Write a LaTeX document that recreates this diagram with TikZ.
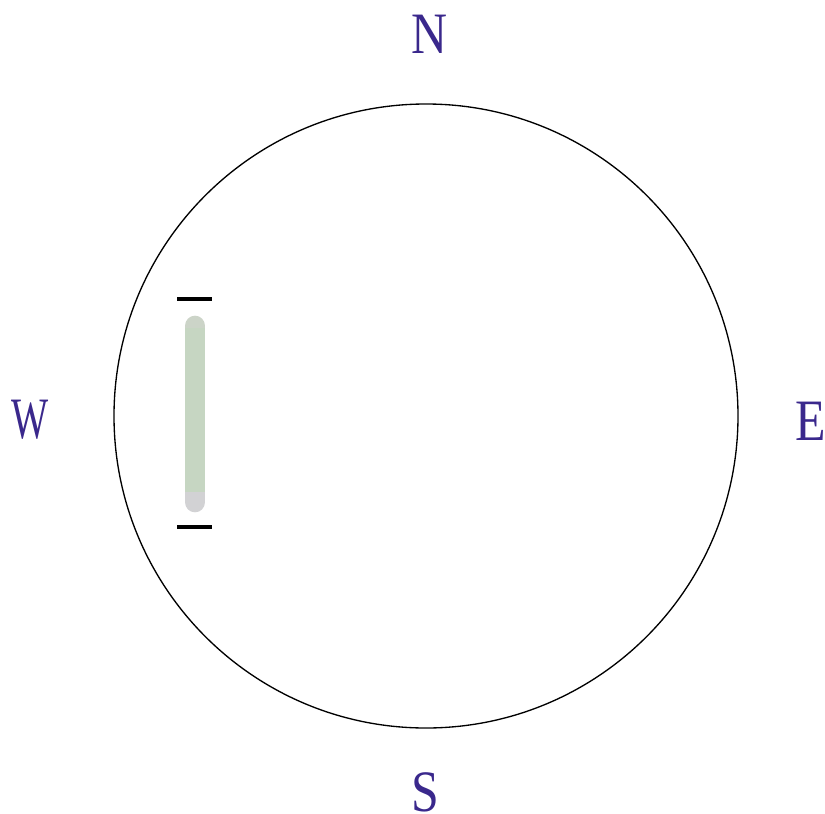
\documentclass[tikz,border=0pt]{standalone}
\usepackage{fontspec}
\setmainfont{Liberation Serif}
\definecolor{lbl}{RGB}{58,40,140}
\definecolor{barg}{RGB}{198,214,194}
\definecolor{barend}{RGB}{210,210,212}
\definecolor{bartop}{RGB}{204,212,200}
\begin{document}
\begin{tikzpicture}[x=0.75pt,y=-0.75pt,
  dir/.style={text=lbl,font=\fontsize{44}{44}\selectfont,inner sep=0pt},
  tick/.style={line width=3pt,black}]
\useasboundingbox (0,0) rectangle (825,814);
\node[draw,circle,line width=1pt,minimum size=624*0.75pt,inner sep=0pt] (c) at (426,416) {};
\node[dir] (n) at (430,34) {\scalebox{0.85}[1]{N}};
\node[dir] (s) at (425,792) {\scalebox{0.85}[1]{S}};
\node[dir] (w) at (30,420) {\scalebox{0.67}[1]{W}};
\node[dir,anchor=west] (e) at (795,421) {\scalebox{0.85}[1]{E}};
% bar
\draw[line width=15.5pt,barend,line cap=round] (195,420) -- (195,502);
\draw[line width=15.5pt,bartop,line cap=round] (195,326) -- (195,420);
\draw[line width=15.5pt,barg] (195,328) -- (195,492);
\draw[tick] (177,299) -- (212,299);
\draw[tick] (177,527) -- (212,527);
\end{tikzpicture}
\end{document}
